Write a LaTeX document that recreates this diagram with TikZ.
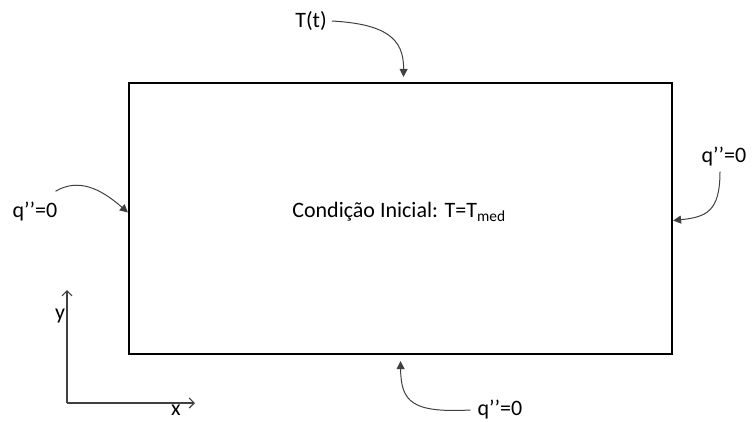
\documentclass[tikz,border=0pt]{standalone}
\usepackage{fontspec}
\setmainfont{Carlito}
\usetikzlibrary{arrows.meta}

\begin{document}
\begin{tikzpicture}[x=1pt, y=-1pt,
    rotulo/.style={font=\fontsize{22}{26}\selectfont, text=black, inner sep=0pt},
    seta/.style={-{Triangle[length=8pt,width=8pt]}, draw=black!75, line width=1pt},
    eixo/.style={-{Straight Barb[length=5pt,width=10pt]}, draw=black!75, line width=1.2pt}]
        \useasboundingbox (0,0) rectangle (752,421);

        % Dominio
        \node[draw, line width=2.2pt, minimum width=543pt, minimum height=271pt, inner sep=0pt] (dominio) at (400.5,218.5) {};
        \node[rotulo] (cond) at (399,212) {Condição Inicial: T=T\textsubscript{med}};

        % Topo: T(t)
        \node[rotulo] (topo) at (311,21) {T(t)};
        \draw[seta] ([xshift=5pt]topo.east) .. controls (385,24) and (404,38) .. ([shift={(3,-5)}]dominio.north);

        % Esquerda
        \node[rotulo] (esq) at (35,212) {q’’=0};
        \draw[seta] ([shift={(-2,-11)}]esq.north east) .. controls (78,178) and (100,188) .. ([yshift=6pt]dominio.west);

        % Direita
        \node[rotulo] (dir) at (724,157) {q’’=0};
        \draw[seta] ([shift={(-4,5)}]dir.south) .. controls (720,212) and (706,217) .. ([yshift=-2pt]dominio.east);

        % Baixo
        \node[rotulo] (baixo) at (500,410) {q’’=0};
        \draw[seta] ([xshift=-7pt]baixo.west) .. controls (412,413) and (401,402) .. ([yshift=-6pt]dominio.south);

        % Eixos
        \coordinate (origem) at (67,403);
        \coordinate (ytopo) at (67,290);
        \coordinate (xfim) at (195,403);
        \draw[eixo] (origem) -- (ytopo);
        \draw[eixo] (origem) -- (xfim);
        \node[rotulo] (ylab) at (60,316) {y};
        \node[rotulo] (xlab) at (176,410) {x};
\end{tikzpicture}
\end{document}
